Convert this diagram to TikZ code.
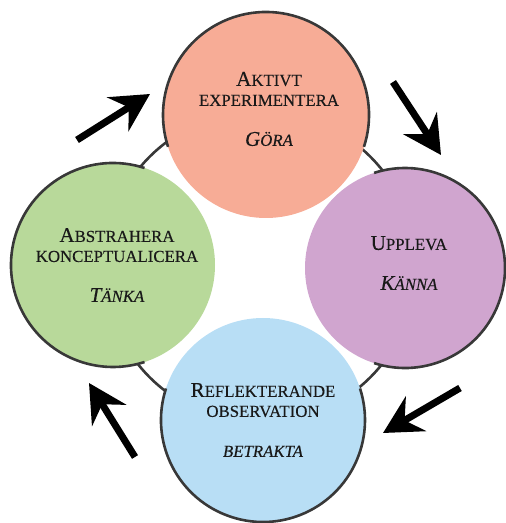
\documentclass[tikz,border=0pt]{standalone}
\usepackage{fontspec}
\setmainfont{Liberation Serif}[FakeBold=0.3]
\usetikzlibrary{arrows.meta}
\definecolor{pinkfill}{HTML}{F7AC96}
\definecolor{greenfill}{HTML}{B8D99A}
\definecolor{purplefill}{HTML}{D0A5CF}
\definecolor{bluefill}{HTML}{B8DEF5}
\definecolor{rimgray}{HTML}{383838}
\newcommand{\capletter}[1]{{\fontsize{21}{20}\selectfont #1}}
\tikzset{
	phase/.style={
		circle,
		inner sep=0pt,
		outer sep=0pt
	},
	phasetext/.style={
		align=center,
		text=black!90,
		font=\fontsize{16.8}{20}\selectfont
	},
	rim/.style={
		draw=rimgray,
		line width=2.6pt
	},
	cyclearrow/.style={
		line width=7pt,
		-{Stealth[length=38pt,width=40pt,inset=13pt]}
	}
}

\begin{document}
\begin{tikzpicture}[x=1pt,y=1pt]
	\useasboundingbox (0,0) rectangle (506,523);
	
	% ring behind the circles
	\coordinate (hub) at (260,256);
	\draw[rim] (hub) circle[radius=156];
	
	% the four phases
	\node[phase, fill=pinkfill, minimum size=206pt] (gora) at (266,408) {};
	\node[phase, fill=purplefill, minimum size=200pt] (kanna) at (405,255) {};
	\node[phase, fill=bluefill, minimum size=204pt] (betrakta) at (263,103) {};
	\node[phase, fill=greenfill, minimum size=204pt] (tanka) at (113,258) {};
	
	% outer rims
	\foreach \phs/\dir/\rad in {gora/90/103, kanna/0/100, betrakta/270/102, tanka/180/102} {
		\draw[rim] (\phs.{\dir-108}) arc[start angle=\dir-108, end angle=\dir+108, radius=\rad];
	}
	
	% texts
	\node[phasetext] (gora-text) at ([xshift=3pt,yshift=6pt]gora.center) {
		\capletter{A}KTIVT\\
		EXPERIMENTERA\\[20pt]
		\textit{\capletter{G}ÖRA}
	};
	\node[phasetext] (kanna-text) at ([xshift=4pt,yshift=5pt]kanna.center) {
		\capletter{U}PPLEVA\\[20pt]
		\textit{\capletter{K}ÄNNA}
	};
	\node[phasetext] (betrakta-text) at (betrakta.center) {
		\capletter{R}EFLEKTERANDE\\
		OBSERVATION\\[20pt]
		\textit{BETRAKTA}
	};
	\node[phasetext] (tanka-text) at ([xshift=4pt]tanka.center) {
		\capletter{A}BSTRAHERA\\
		KONCEPTUALICERA\\[20pt]
		\textit{\capletter{T}ÄNKA}
	};
	
	% arrows round the cycle
	\coordinate (a1s) at (77,383);  \coordinate (a1e) at (150,429);
	\coordinate (a2s) at (393,441); \coordinate (a2e) at (441,368);
	\coordinate (a3s) at (460,135); \coordinate (a3e) at (383,90);
	\coordinate (a4s) at (135,66);  \coordinate (a4e) at (89,140);
	\draw[cyclearrow] (a1s) -- (a1e);
	\draw[cyclearrow] (a2s) -- (a2e);
	\draw[cyclearrow] (a3s) -- (a3e);
	\draw[cyclearrow] (a4s) -- (a4e);
\end{tikzpicture}
\end{document}
